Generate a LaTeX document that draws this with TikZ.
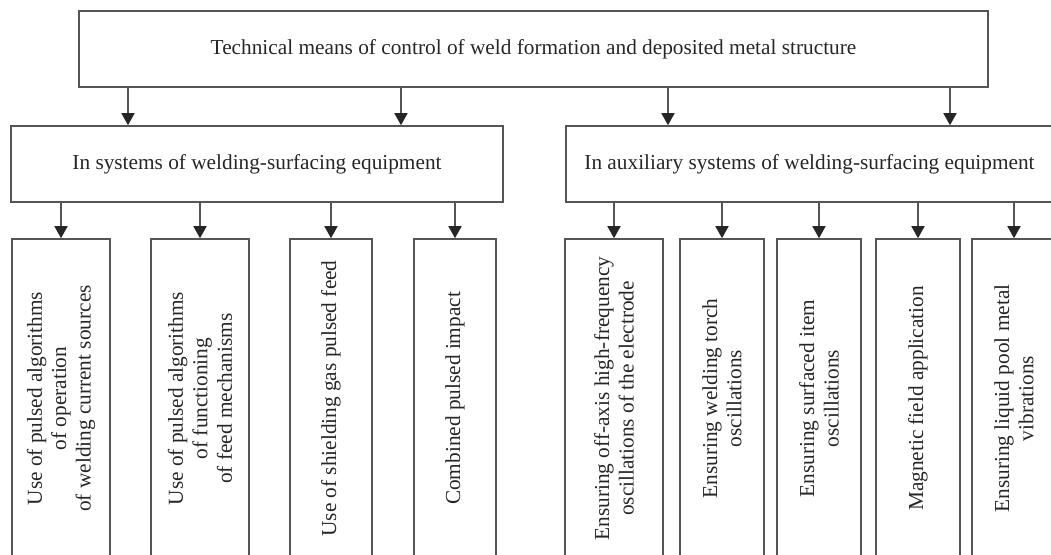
\documentclass[tikz,border=0pt]{standalone}
\usepackage{fontspec}
\setmainfont{Liberation Serif}
\usetikzlibrary{arrows.meta}
\definecolor{boxline}{HTML}{555555}
\definecolor{txt}{HTML}{262626}

\begin{document}
\begin{tikzpicture}[x=0.5pt, y=-0.5pt,
  >={Triangle[length=6pt, width=6.5pt, color=black!85]},
  box/.style={draw=boxline, line width=0.8pt, text=txt, inner sep=0pt,
    font=\fontsize{10.65}{12.2}\selectfont},
  vbox/.style={box, rotate=90, align=center, minimum width=159.5pt},
  arr/.style={->, draw=boxline, line width=0.8pt}]
  \useasboundingbox (0,0) rectangle (1051,554);
  \clip (0,0) rectangle (1051,554);

  % Top level
  \node[box, minimum width=454.5pt, minimum height=38pt] (top) at (533.5,49)
    {Technical means of control of weld formation and deposited metal structure};

  % Second level
  \node[box, minimum width=246pt, minimum height=38pt] (sys) at (257,164)
    {In systems of welding-surfacing equipment};
  \node[box, minimum width=243.5pt, minimum height=38pt] (aux) at (809.5,164)
    {In auxiliary systems of welding-surfacing equipment};

  % Third level, welding-surfacing equipment
  \node[vbox, minimum height=49pt] (pcur) at (61,398.5)
    {Use of pulsed algorithms\\of operation\\of welding current sources};
  \node[vbox, minimum height=49pt] (pfeed) at (200,398.5)
    {Use of pulsed algorithms\\of functioning\\of feed mechanisms};
  \node[vbox, minimum height=41pt] (pgas) at (331,398.5)
    {Use of shielding gas pulsed feed};
  \node[vbox, minimum height=41pt] (pcomb) at (455,398.5)
    {Combined pulsed impact};

  % Third level, auxiliary systems
  \node[vbox, minimum height=49pt] (oelec) at (614,398.5)
    {Ensuring off-axis high-frequency\\oscillations of the electrode};
  \node[vbox, minimum height=42pt] (otorch) at (722,398.5)
    {Ensuring welding torch\\oscillations};
  \node[vbox, minimum height=42pt] (oitem) at (819,398.5)
    {Ensuring surfaced item\\oscillations};
  \node[vbox, minimum height=42pt] (magn) at (918,398.5)
    {Magnetic field application};
  \node[vbox, minimum height=42pt] (vpool) at (1014,398.5)
    {Ensuring liquid pool metal\\vibrations};

  % Arrows from the top box
  \coordinate (c1) at (128,0);
  \coordinate (c2) at (401,0);
  \coordinate (c3) at (668,0);
  \coordinate (c4) at (950,0);
  \draw[arr] (top.south -| c1) -- (sys.north -| c1);
  \draw[arr] (top.south -| c2) -- (sys.north -| c2);
  \draw[arr] (top.south -| c3) -- (aux.north -| c3);
  \draw[arr] (top.south -| c4) -- (aux.north -| c4);

  % Arrows to the third level
  \foreach \b in {pcur, pfeed, pgas, pcomb}
    \draw[arr] (sys.south -| \b.east) -- (\b.east);
  \foreach \b in {oelec, otorch, oitem, magn, vpool}
    \draw[arr] (aux.south -| \b.east) -- (\b.east);
\end{tikzpicture}
\end{document}
